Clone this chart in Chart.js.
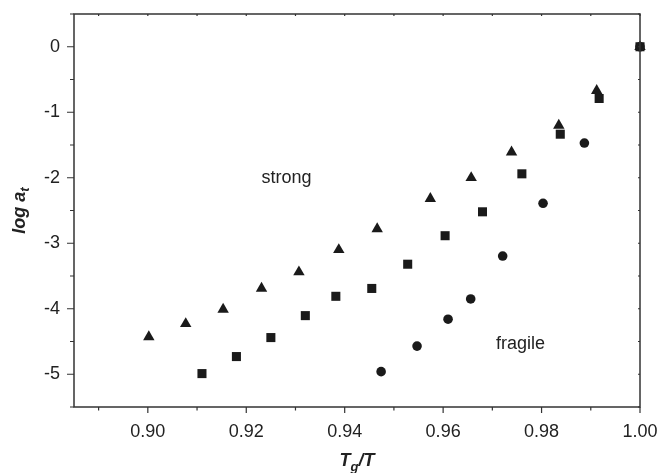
<!DOCTYPE html>
<html>
<head>
<meta charset="utf-8">
<script src="https://cdn.jsdelivr.net/npm/chart.js@4/dist/chart.umd.min.js"></script>
<style>
  html, body { margin: 0; padding: 0; background: #fff; }
  #wrap { width: 659px; height: 473px; }
</style>
</head>
<body>
<div id="wrap"><canvas id="plot"></canvas></div>
<script>
// values
const strongX = [0.9002, 0.9077, 0.9153, 0.9231, 0.9307, 0.9388, 0.9466, 0.9574, 0.9657, 0.9739, 0.9835, 0.9912, 1.0];
const strongY = [-4.43, -4.23, -4.01, -3.69, -3.44, -3.10, -2.78, -2.32, -2.00, -1.61, -1.20, -0.67, 0];

const middleX = [0.9110, 0.9180, 0.9250, 0.9320, 0.9382, 0.9455, 0.9528, 0.9604, 0.9680, 0.9760, 0.9838, 0.9917, 1.0];
const middleY = [-4.99, -4.73, -4.44, -4.105, -3.81, -3.69, -3.32, -2.885, -2.52, -1.94, -1.335, -0.79, 0];

const fragileX = [0.9474, 0.9547, 0.9610, 0.9656, 0.9721, 0.9803, 0.9887, 1.0];
const fragileY = [-4.96, -4.57, -4.16, -3.85, -3.195, -2.39, -1.47, 0];

const xTicks = [0.90, 0.92, 0.94, 0.96, 0.98, 1.00];
const yTicks = [0, -1, -2, -3, -4, -5];

const notes = [
  { text: "strong", x: 0.9282, y: -2.0 },
  { text: "fragile", x: 0.9757, y: -4.54 },
];

const ink = "#1a1a1a";
const axisInk = "#333";
const fontFam = "'Liberation Sans', Arial, sans-serif";

function pts(xs, ys) {
  return xs.map((x, i) => ({ x: x, y: ys[i] }));
}

// frame, tick marks, annotations and axis titles
const decor = {
  id: "decor",
  afterDatasetsDraw(chart) {
    const ctx = chart.ctx;
    const a = chart.chartArea;
    const xs = chart.scales.x;
    const ys = chart.scales.y;
    ctx.save();
    ctx.strokeStyle = axisInk;
    ctx.lineWidth = 1.5;
    ctx.strokeRect(a.left, a.top, a.right - a.left, a.bottom - a.top);

    ctx.lineWidth = 1.2;
    ctx.beginPath();
    xs.ticks.forEach((t) => {
      const px = xs.getPixelForValue(t.value);
      const major = Math.round(t.value * 100) % 2 === 0;
      ctx.moveTo(px, a.bottom);
      ctx.lineTo(px, a.bottom + (major ? 6 : 3.5));
      ctx.moveTo(px, a.top);
      ctx.lineTo(px, a.top + 2);
    });
    ys.ticks.forEach((t) => {
      const py = ys.getPixelForValue(t.value);
      const major = Number.isInteger(t.value);
      ctx.moveTo(a.left, py);
      ctx.lineTo(a.left - (major ? 7 : 4), py);
      ctx.moveTo(a.right, py);
      ctx.lineTo(a.right - 2, py);
    });
    ctx.stroke();

    ctx.fillStyle = "#222";
    ctx.font = "18px " + fontFam;
    ctx.textAlign = "center";
    ctx.textBaseline = "middle";
    notes.forEach((n) => {
      ctx.fillText(n.text, xs.getPixelForValue(n.x), ys.getPixelForValue(n.y));
    });

    // x title: T_g/T
    const big = "bold italic 18px " + fontFam;
    const small = "bold italic 13px " + fontFam;
    ctx.textAlign = "left";
    ctx.textBaseline = "alphabetic";
    ctx.font = big;
    const wT = ctx.measureText("T").width;
    const wRest = ctx.measureText("/T").width;
    ctx.font = small;
    const wg = ctx.measureText("g").width;
    let cx = (a.left + a.right) / 2 - (wT + wg + wRest) / 2;
    const base = 466;
    ctx.font = big;
    ctx.fillText("T", cx, base);
    ctx.font = small;
    ctx.fillText("g", cx + wT, base + 5);
    ctx.font = big;
    ctx.fillText("/T", cx + wT + wg, base);

    // y title: log a_t
    ctx.translate(25, (a.top + a.bottom) / 2);
    ctx.rotate(-Math.PI / 2);
    ctx.font = big;
    const wl = ctx.measureText("log a").width;
    ctx.font = small;
    const wt = ctx.measureText("t").width;
    const sx = -(wl + wt) / 2;
    ctx.font = big;
    ctx.fillText("log a", sx, 0);
    ctx.font = small;
    ctx.fillText("t", sx + wl, 4);
    ctx.restore();
  },
};

new Chart(document.getElementById("plot"), {
  type: "scatter",
  data: {
    datasets: [
      {
        label: "fragile",
        data: pts(fragileX, fragileY),
        pointStyle: "circle",
        pointRadius: 4.8,
        backgroundColor: ink,
        borderColor: ink,
        borderWidth: 0,
      },
      {
        label: "intermediate",
        data: pts(middleX, middleY),
        pointStyle: "rect",
        pointRadius: 6.4,
        backgroundColor: ink,
        borderColor: ink,
        borderWidth: 0,
      },
      {
        label: "strong",
        data: pts(strongX, strongY),
        pointStyle: "triangle",
        pointRadius: 6.6,
        backgroundColor: ink,
        borderColor: ink,
        borderWidth: 0,
      },
    ],
  },
  options: {
    responsive: true,
    maintainAspectRatio: false,
    animation: false,
    clip: false,
    layout: { padding: { left: 0, right: 19, top: 14, bottom: 0 } },
    plugins: {
      legend: { display: false },
      tooltip: { enabled: false },
    },
    scales: {
      x: {
        type: "linear",
        min: 0.885,
        max: 1.0,
        grid: { display: false, drawTicks: false },
        border: { display: false },
        ticks: {
          stepSize: 0.01,
          includeBounds: false,
          autoSkip: false,
          maxRotation: 0,
          padding: 14,
          color: "#222",
          font: { family: fontFam, size: 18 },
          callback: (v) => {
            const hit = xTicks.find((t) => Math.abs(t - v) < 1e-6);
            return hit === undefined ? "" : hit.toFixed(2);
          },
        },
        afterFit: (s) => {
          s.height = 66;
          s.paddingLeft = 0;
          s.paddingRight = 0;
        },
      },
      y: {
        type: "linear",
        min: -5.5,
        max: 0.5,
        grid: { display: false, drawTicks: false },
        border: { display: false },
        ticks: {
          stepSize: 0.5,
          autoSkip: false,
          padding: 14,
          color: "#222",
          font: { family: fontFam, size: 18 },
          callback: (v) => (yTicks.includes(v) ? String(v) : ""),
        },
        afterFit: (s) => {
          s.width = 74;
          s.paddingTop = 0;
          s.paddingBottom = 0;
        },
      },
    },
  },
  plugins: [decor],
});
</script>
</body>
</html>
